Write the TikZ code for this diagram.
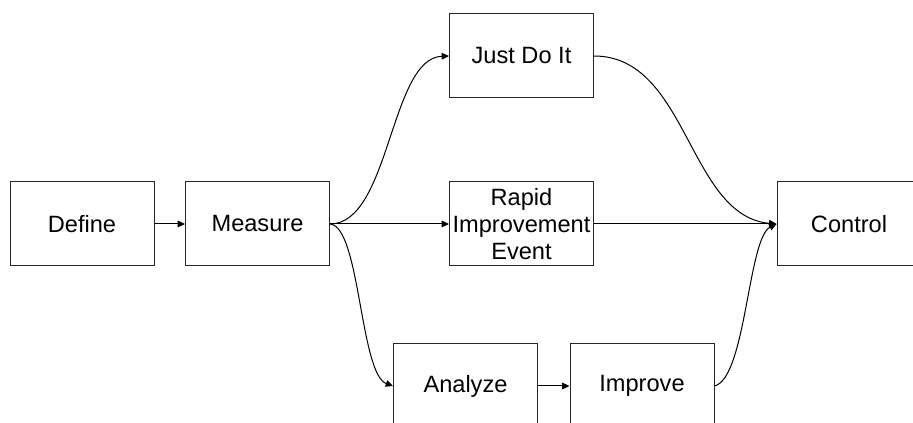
\documentclass[tikz,border=0pt]{standalone}
\usepackage{fontspec}
\setmainfont{Liberation Sans}
\usepackage{tikz}
\usetikzlibrary{arrows.meta}

\tikzset{
    stage/.style={draw=black!85, line width=0.75pt, minimum width=108pt, minimum height=63pt,
        inner sep=0pt, align=center, font=\fontsize{17.7pt}{20.3pt}\selectfont},
    flow/.style={line width=0.75pt, -{Triangle[length=5.5pt,width=5pt]}}
}

\begin{document}
\begin{tikzpicture}[x=0.75pt,y=-0.75pt]
        \useasboundingbox (0,0) rectangle (913,423);
        \node[stage] (define) at (82,224) {Define};
        \node[stage] (measure) at (257.5,224) {Measure};
        \node[stage] (jdi) at (521.5,56) {Just Do It};
        \node[stage] (rapid) at (521.5,224) {Rapid\\Improvement\\Event};
        \node[stage] (analyze) at (465.5,386) {Analyze};
        \node[stage] (improve) at (642,386) {Improve};
        \node[stage] (control) at (849,224) {Control};
        \draw[flow] (define) -- (measure);
        \draw[flow] (measure) -- (rapid);
        \draw[flow] (rapid) -- (control);
        \draw[flow] (analyze) -- (improve);
        \draw[flow] (measure.east) .. controls (390,224) and (390,58) .. (jdi.west);
        \draw[flow] (measure.east) .. controls (360,226) and (360,374) .. (analyze.west);
        \draw[flow] (jdi.east) .. controls (688,56) and (688,216) .. (control.west);
        \draw[flow] (improve.east) .. controls (746,378) and (748,238) .. (control.west);
    \end{tikzpicture}
\end{document}
